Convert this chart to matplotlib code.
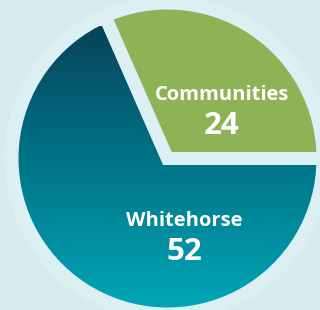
import matplotlib as mpl
import matplotlib.pyplot as plt
import numpy as np
from matplotlib.colors import LinearSegmentedColormap
from matplotlib.patches import Circle

mpl.rcParams['font.family'] = ['Open Sans', 'DejaVu Sans']

# data
labels = ['Whitehorse', 'Communities']
values = [52, 24]

# colours
bg_color = '#d5ebee'
halo_color = '#dcf0f3'
green = '#8db356'
teal_stops = ['#07435a', '#00768a', '#00a6b6']

W, H = 320, 310
cx, cy = 167.5, 151.5      # pie centre (pixel units, y up)
radius = 155.5
gap = 13                   # px, width of the light stroke between slices

fig = plt.figure(figsize=(W / 100, H / 100), dpi=100)
fig.patch.set_facecolor(bg_color)
ax = fig.add_axes([0, 0, 1, 1])
ax.set_xlim(0, W)
ax.set_ylim(0, H)
ax.set_aspect('equal')
ax.axis('off')

# soft halo behind the pie
ax.add_patch(Circle((cx, cy), 162.5, color=halo_color, zorder=1))

wedges, _ = ax.pie(values, center=(cx, cy), radius=radius, startangle=0,
                   counterclock=False, colors=['none', green],
                   wedgeprops=dict(edgecolor=halo_color,
                                   linewidth=gap * 72 / 100, zorder=3))

# vertical gradient for the Whitehorse slice (dark at the top)
cmap = LinearSegmentedColormap.from_list('teal', teal_stops)
grad = np.linspace(0, 1, 256).reshape(-1, 1)
img = ax.imshow(grad, cmap=cmap, aspect='auto', origin='upper',
                extent=[cx - radius, cx + radius, H - 308, H - 26],
                zorder=2)
img.set_clip_path(wedges[0])
ax.set_xlim(0, W)
ax.set_ylim(0, H)

# labels (offsets from the pie centre)
label_pos = [(17, -68), (54.5, 58)]
for (dx, dy), name, val in zip(label_pos, labels, values):
    ax.text(cx + dx, cy + dy, name, color='white', fontsize=14.5,
            fontweight='bold', ha='center', va='baseline', zorder=5)
    ax.text(cx + dx, cy + dy - 33, str(val), color='white', fontsize=22.5,
            fontweight='bold', ha='center', va='baseline', zorder=5)

fig.savefig('out.png', dpi=100, facecolor=bg_color)
